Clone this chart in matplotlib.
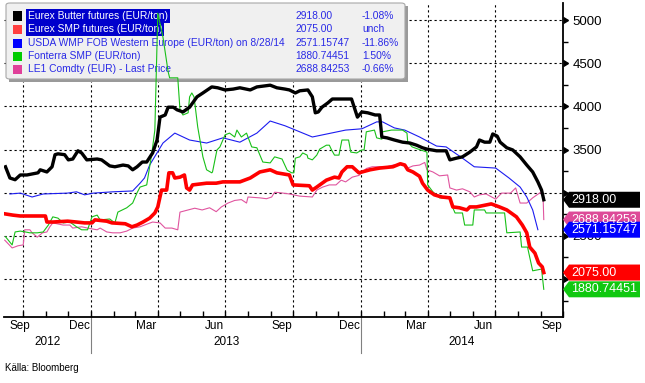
import pandas as pd
import matplotlib
matplotlib.use('Agg')
import matplotlib.pyplot as plt
import matplotlib.dates as mdates
import matplotlib.transforms as mtransforms
from matplotlib.patches import Polygon, FancyBboxPatch, Rectangle
from matplotlib.lines import Line2D

# ---- data (EUR/ton) ----
butter_dates = ['2012-09-07', '2012-09-13', '2012-09-20', '2012-09-27', '2012-10-06', '2012-10-21', '2012-10-24',
                '2012-11-02', '2012-11-09', '2012-11-13', '2012-11-17', '2012-11-26', '2012-12-01', '2012-12-07',
                '2012-12-14', '2012-12-19', '2012-12-26', '2013-01-09', '2013-01-15', '2013-01-26', '2013-02-02',
                '2013-02-13', '2013-02-20', '2013-02-26', '2013-03-04', '2013-03-11', '2013-03-17', '2013-03-25',
                '2013-03-31', '2013-04-04', '2013-04-11', '2013-04-15', '2013-04-22', '2013-04-27', '2013-05-05',
                '2013-05-14', '2013-05-24', '2013-06-01', '2013-06-13', '2013-06-21', '2013-07-01', '2013-07-12',
                '2013-07-21', '2013-08-04', '2013-08-13', '2013-08-31', '2013-09-09', '2013-09-20', '2013-09-26',
                '2013-10-04', '2013-10-10', '2013-10-21', '2013-10-27', '2013-10-31', '2013-11-04', '2013-11-09',
                '2013-11-17', '2013-11-23', '2013-12-19', '2013-12-23', '2013-12-27', '2014-01-02', '2014-01-10',
                '2014-01-20', '2014-01-26', '2014-01-29', '2014-02-05', '2014-02-15', '2014-02-26', '2014-03-08',
                '2014-03-17', '2014-03-25', '2014-03-31', '2014-04-13', '2014-04-26', '2014-05-01', '2014-05-10',
                '2014-05-18', '2014-05-28', '2014-06-06', '2014-06-10', '2014-06-17', '2014-06-24', '2014-06-28',
                '2014-07-04', '2014-07-08', '2014-07-17', '2014-07-25', '2014-08-04', '2014-08-13', '2014-08-21',
                '2014-08-28', '2014-09-02', '2014-09-05']
butter_vals = [3300, 3170, 3150, 3205, 3205, 3230, 3265, 3240, 3300, 3440, 3450, 3440, 3380, 3390, 3485, 3460, 3380,
               3390, 3380, 3310, 3300, 3320, 3310, 3265, 3300, 3355, 3355, 3460, 3610, 3875, 3900, 3990, 3990, 3960,
               3935, 3990, 4110, 4155, 4225, 4215, 4190, 4200, 4215, 4190, 4225, 4245, 4215, 4200, 4190, 4155, 4180,
               4190, 4110, 3925, 3935, 3990, 4040, 4085, 4085, 3980, 3875, 3935, 3925, 3900, 3900, 3645, 3635, 3610,
               3585, 3575, 3550, 3520, 3505, 3485, 3485, 3380, 3400, 3415, 3470, 3530, 3610, 3585, 3585, 3680, 3655,
               3585, 3520, 3495, 3415, 3320, 3240, 3125, 3030, 2918.00]

smp_dates = ['2012-09-06', '2012-09-17', '2012-09-27', '2012-10-31', '2012-11-02', '2012-11-10', '2012-11-30',
             '2012-12-12', '2012-12-23', '2013-01-02', '2013-01-06', '2013-01-22', '2013-01-29', '2013-02-16',
             '2013-02-25', '2013-03-04', '2013-03-12', '2013-03-21', '2013-03-28', '2013-04-01', '2013-04-06',
             '2013-04-13', '2013-04-16', '2013-04-21', '2013-04-24', '2013-05-01', '2013-05-07', '2013-05-10',
             '2013-05-14', '2013-05-18', '2013-06-06', '2013-06-19', '2013-06-28', '2013-07-21', '2013-08-04',
             '2013-08-17', '2013-08-31', '2013-09-09', '2013-09-26', '2013-10-01', '2013-10-23', '2013-10-27',
             '2013-11-02', '2013-11-15', '2013-11-26', '2013-12-02', '2013-12-06', '2013-12-13', '2013-12-20',
             '2013-12-29', '2014-01-13', '2014-01-26', '2014-02-13', '2014-02-23', '2014-03-01', '2014-03-05',
             '2014-03-12', '2014-03-21', '2014-03-25', '2014-04-01', '2014-04-10', '2014-04-20', '2014-05-01',
             '2014-05-05', '2014-05-14', '2014-05-24', '2014-05-28', '2014-06-06', '2014-06-26', '2014-07-07',
             '2014-07-17', '2014-07-30', '2014-08-07', '2014-08-13', '2014-08-17', '2014-08-24', '2014-08-29',
             '2014-09-03', '2014-09-05']
smp_vals = [2755, 2740, 2730, 2730, 2660, 2660, 2670, 2660, 2650, 2650, 2685, 2670, 2650, 2640, 2605, 2625, 2660,
            2705, 2765, 2835, 3030, 3030, 3230, 3230, 3170, 3180, 3205, 3055, 3030, 3090, 3110, 3110, 3125, 3125,
            3170, 3240, 3265, 3230, 3205, 3090, 3080, 3030, 3065, 3145, 3180, 3170, 3240, 3300, 3300, 3230, 3265,
            3285, 3300, 3335, 3320, 3265, 3240, 3190, 3110, 3030, 2975, 2950, 2940, 2835, 2825, 2800, 2835, 2835,
            2870, 2835, 2800, 2720, 2625, 2535, 2370, 2300, 2185, 2140, 2075.00]

wmp_dates = ['2012-09-13', '2012-09-27', '2012-10-13', '2012-10-28', '2012-11-30', '2012-12-12', '2012-12-23',
             '2013-01-04', '2013-01-30', '2013-02-26', '2013-03-08', '2013-03-14', '2013-03-21', '2013-04-08',
             '2013-04-24', '2013-05-14', '2013-06-06', '2013-06-28', '2013-07-21', '2013-08-13', '2013-08-31',
             '2013-09-20', '2013-10-27', '2013-12-11', '2014-01-02', '2014-01-22', '2014-01-30', '2014-02-15',
             '2014-03-01', '2014-03-21', '2014-04-13', '2014-04-26', '2014-05-18', '2014-06-03', '2014-07-02',
             '2014-07-20', '2014-08-04', '2014-08-13', '2014-08-21', '2014-08-28']
wmp_vals = [2985, 2995, 2950, 2985, 2995, 3010, 2975, 2995, 3010, 3020, 3110, 3170, 3320, 3575, 3690, 3610, 3575,
            3635, 3585, 3690, 3830, 3775, 3645, 3725, 3740, 3820, 3820, 3750, 3725, 3645, 3540, 3530, 3400, 3300,
            3285, 3170, 3065, 2950, 2800, 2571.15747]

fonterra_dates = ['2012-09-07', '2012-09-16', '2012-09-20', '2012-09-27', '2012-10-04', '2012-10-10', '2012-10-20',
                  '2012-10-28', '2012-11-04', '2012-11-10', '2012-11-17', '2012-11-24', '2012-12-03', '2012-12-12',
                  '2012-12-19', '2012-12-27', '2013-01-02', '2013-01-09', '2013-01-13', '2013-01-26', '2013-02-02',
                  '2013-02-06', '2013-02-18', '2013-02-26', '2013-03-04', '2013-03-08', '2013-03-17', '2013-03-24',
                  '2013-03-28', '2013-04-01', '2013-04-08', '2013-04-15', '2013-04-17', '2013-04-28', '2013-05-01',
                  '2013-05-05', '2013-05-12', '2013-05-14', '2013-05-17', '2013-05-20', '2013-05-25', '2013-06-01',
                  '2013-06-06', '2013-06-13', '2013-06-14', '2013-06-20', '2013-06-24', '2013-07-01', '2013-07-07',
                  '2013-07-14', '2013-07-17', '2013-07-23', '2013-07-30', '2013-08-06', '2013-08-13', '2013-08-21',
                  '2013-08-31', '2013-09-06', '2013-09-16', '2013-09-23', '2013-09-29', '2013-10-02', '2013-10-04',
                  '2013-10-10', '2013-10-14', '2013-10-20', '2013-10-21', '2013-10-27', '2013-11-02', '2013-11-06',
                  '2013-11-15', '2013-11-19', '2013-11-22', '2013-11-26', '2013-12-02', '2013-12-06', '2013-12-15',
                  '2013-12-18', '2013-12-26', '2014-01-02', '2014-01-05', '2014-01-08', '2014-01-19', '2014-01-22',
                  '2014-01-29', '2014-01-30', '2014-02-11', '2014-02-26', '2014-03-04', '2014-03-05', '2014-03-11',
                  '2014-03-19', '2014-03-31', '2014-04-01', '2014-04-08', '2014-04-17', '2014-05-01', '2014-05-05',
                  '2014-05-08', '2014-05-18', '2014-05-21', '2014-06-01', '2014-06-03', '2014-06-17', '2014-06-19',
                  '2014-07-14', '2014-07-17', '2014-08-04', '2014-08-06', '2014-08-14', '2014-08-21', '2014-09-02',
                  '2014-09-05']
fonterra_vals = [2490, 2395, 2545, 2555, 2545, 2535, 2535, 2545, 2625, 2720, 2705, 2650, 2660, 2605, 2570, 2570,
                 2720, 2740, 2685, 2695, 2650, 2775, 2825, 2880, 3000, 3065, 3090, 3460, 3725, 5080, 4800, 4400,
                 4330, 4330, 3960, 3900, 3925, 4110, 4155, 4110, 3760, 3415, 3265, 3230, 3240, 3495, 3530, 3670,
                 3690, 3645, 3725, 3645, 3690, 3530, 3520, 3355, 3345, 3415, 3390, 3260, 3230, 3230, 3400, 3415,
                 3460, 3435, 3400, 3380, 3435, 3505, 3550, 3550, 3495, 3435, 3435, 3610, 3610, 3470, 3460, 3495,
                 3495, 3705, 3725, 3635, 3620, 3705, 3725, 3725, 3690, 3585, 3530, 3505, 3470, 3090, 3010, 2940,
                 2940, 2825, 2765, 2765, 2625, 2625, 2800, 2800, 2765, 2765, 2535, 2545, 2370, 2370, 2095, 2115,
                 1880.74451]

le1_dates = ['2012-09-06', '2012-09-16', '2012-09-24', '2012-10-01', '2012-10-03', '2012-10-10', '2012-10-13',
             '2012-10-20', '2012-10-27', '2012-11-02', '2012-11-06', '2012-11-10', '2012-11-24', '2012-12-03',
             '2012-12-07', '2012-12-19', '2012-12-27', '2013-01-09', '2013-01-13', '2013-01-22', '2013-01-30',
             '2013-02-09', '2013-02-18', '2013-02-26', '2013-03-08', '2013-03-14', '2013-03-25', '2013-04-04',
             '2013-04-11', '2013-04-20', '2013-04-28', '2013-05-01', '2013-05-12', '2013-05-21', '2013-05-31',
             '2013-06-10', '2013-06-19', '2013-06-26', '2013-07-05', '2013-07-14', '2013-07-23', '2013-07-30',
             '2013-08-01', '2013-08-17', '2013-08-26', '2013-09-02', '2013-09-06', '2013-09-13', '2013-09-26',
             '2013-10-10', '2013-10-27', '2013-11-02', '2013-11-10', '2013-11-19', '2013-11-28', '2013-12-05',
             '2013-12-11', '2013-12-20', '2013-12-29', '2014-01-08', '2014-01-16', '2014-02-05', '2014-02-13',
             '2014-02-23', '2014-03-01', '2014-03-05', '2014-03-12', '2014-03-21', '2014-03-28', '2014-03-31',
             '2014-04-08', '2014-04-17', '2014-04-28', '2014-05-01', '2014-05-10', '2014-05-18', '2014-05-28',
             '2014-06-03', '2014-06-10', '2014-06-19', '2014-07-02', '2014-07-10', '2014-07-22', '2014-07-29',
             '2014-08-04', '2014-08-13', '2014-08-21', '2014-08-31', '2014-09-04', '2014-09-05']
le1_vals = [2450, 2360, 2385, 2395, 2570, 2570, 2535, 2485, 2535, 2545, 2605, 2650, 2625, 2625, 2590, 2605, 2590,
            2570, 2590, 2545, 2535, 2535, 2555, 2590, 2605, 2625, 2660, 2650, 2590, 2590, 2570, 2775, 2800, 2820,
            2800, 2825, 2780, 2835, 2880, 2910, 2920, 2880, 2950, 2940, 2930, 2950, 3005, 3000, 2985, 2960, 2950,
            3030, 3065, 3090, 3090, 3145, 3125, 3180, 3200, 3280, 3300, 3300, 3320, 3330, 3310, 3285, 3310, 3320,
            3350, 3265, 3240, 3195, 3205, 3055, 3030, 3045, 3010, 2950, 2975, 2985, 2925, 2995, 2995, 3055, 2880,
            2880, 2940, 3000, 2975, 2688.84253]

legend_labels = ['Eurex Butter futures (EUR/ton)', 'Eurex SMP futures (EUR/ton)',
                 'USDA WMP FOB Western Europe (EUR/ton) on 8/28/14', 'Fonterra SMP (EUR/ton)',
                 'LE1 Comdty (EUR) - Last Price']
last_labels = ['2918.00', '2075.00', '2571.15747', '1880.74451', '2688.84253']
change_labels = ['-1.08%', 'unch', '-11.86%', '1.50%', '-0.66%']

# y ticks; 2000 and 3000 sit fully behind the value tags in the original
ytick_vals = [2000, 2500, 3000, 3500, 4000, 4500, 5000]
ytick_labels = ['', '2500', '', '3500', '4000', '4500', '5000']

series = [(butter_dates, butter_vals), (smp_dates, smp_vals), (wmp_dates, wmp_vals),
          (fonterra_dates, fonterra_vals), (le1_dates, le1_vals)]
colors = ['#000000', '#ff0000', '#1c1cf0', '#18c018', '#e0559f']
legend_swatch = ['#000000', '#ff4040', '#0000ff', '#00cc00', '#e0409a']
tag_colors = ['#000000', '#ff0000', '#0000ff', '#10c810', '#dd4a98']
widths = [2.4, 2.6, 0.8, 0.8, 0.8]
zorders = [7, 6, 4, 5, 3]

plain = ['Liberation Sans', 'DejaVu Sans']

W, H = 645, 383
fig = plt.figure(figsize=(W / 100, H / 100), dpi=100)
ax_l, ax_r, ax_t, ax_b = 4, 563, 3, 317
ax = fig.add_axes([ax_l / W, 1 - ax_b / H, (ax_r - ax_l) / W, (ax_b - ax_t) / H])

for (d, v), c, lw, z in zip(series, colors, widths, zorders):
    ax.plot(pd.to_datetime(d), v, color=c, lw=lw, zorder=z, solid_joinstyle='round')

ymin, ymax = 1560, 5197
ax.set_ylim(ymin, ymax)
ax.set_xlim(pd.Timestamp('2012-09-05'), pd.Timestamp('2014-10-01'))

# axes styling
for s in ['left', 'top']:
    ax.spines[s].set_visible(False)
for s in ['right', 'bottom']:
    ax.spines[s].set_linewidth(1.3)

ax.yaxis.tick_right()
ax.set_yticks(ytick_vals, ytick_labels)
ax.set_yticks(range(1750, 5001, 250), minor=True)
ax.tick_params(axis='y', which='major', direction='out', length=5, width=1, pad=2, labelsize=9.5)
ax.tick_params(axis='y', which='minor', direction='out', length=3.5, width=1)
for t in ax.yaxis.get_major_ticks():
    t.tick2line.set_marker(9)
    t.tick2line.set_markersize(5)
for lab in ax.get_yticklabels():
    lab.set_fontfamily(plain)

ax.xaxis.set_major_locator(mdates.MonthLocator(bymonth=[1, 4, 7, 10]))
ax.xaxis.set_minor_locator(mdates.MonthLocator())
ax.xaxis.set_major_formatter(plt.NullFormatter())
ax.tick_params(axis='x', which='both', direction='in', length=4, width=1)

ax.grid(True, which='major', color='black', linestyle=(0, (2, 2.5)), linewidth=0.8)
ax.set_axisbelow(True)

# month labels centred in their month (first one kept inside the axis), year labels below
xt = mtransforms.blended_transform_factory(ax.transData, ax.transAxes)
axw = ax_r - ax_l
lab_y = -9 / (ax_b - ax_t)
year_y = -25 / (ax_b - ax_t)
first = True
for m in pd.date_range('2012-09-01', '2014-09-01', freq='MS'):
    if m.month in (3, 6, 9, 12):
        if first:
            ax.text(6 / axw, lab_y, m.strftime('%b'), transform=ax.transAxes, ha='left', va='center',
                    fontsize=8.5, family=plain)
            first = False
        else:
            ax.text(m + pd.Timedelta(days=15), lab_y, m.strftime('%b'), transform=xt, ha='center', va='center',
                    fontsize=8.5, family=plain)
xl = ax.get_xlim()
bounds = [mdates.num2date(xl[0]).replace(tzinfo=None), pd.Timestamp('2013-01-01'), pd.Timestamp('2014-01-01'),
          mdates.num2date(xl[1]).replace(tzinfo=None)]
for yr, a, b in zip(['2012', '2013', '2014'], bounds[:-1], bounds[1:]):
    mid = pd.Timestamp(a) + (pd.Timestamp(b) - pd.Timestamp(a)) / 2
    ax.text(mid, year_y, yr, transform=xt, ha='center', va='center', fontsize=8.5, family=plain)
for b in bounds[1:3]:
    ax.add_line(Line2D([b, b], [0, -36 / (ax_b - ax_t)], transform=xt, color='#808080', lw=0.8, clip_on=False))

# legend box (lines are drawn over it, like the original)
def fp(x, y):
    return x / W, 1 - y / H

ax.add_patch(Rectangle(fp(9, 82), 399 / W, 76 / H, transform=fig.transFigure, facecolor='#9a9a9a',
                       edgecolor='none', zorder=1.7, clip_on=False))
ax.add_patch(FancyBboxPatch(fp(6, 79), 399 / W, 76 / H, boxstyle='round,pad=0,rounding_size=0.006',
                            transform=fig.transFigure, facecolor='#f0f0f0', edgecolor='#a8a8a8', lw=0.8,
                            zorder=1.8, clip_on=False))
row_y = [16, 29.5, 43, 56, 69.5]
leg_fs = 7.4
for i, (lab, val, chg) in enumerate(zip(legend_labels, last_labels, change_labels)):
    y = row_y[i]
    ax.add_patch(Rectangle(fp(13, y + 4.5), 9 / W, 9 / H, transform=fig.transFigure,
                           facecolor=legend_swatch[i], edgecolor='none', zorder=1.9, clip_on=False))
    if i < 2:
        ax.text(*fp(28, y), lab, transform=fig.transFigure, fontsize=leg_fs, family=plain, color='white',
                va='center', ha='left', zorder=1.9,
                bbox=dict(boxstyle='square,pad=0.15', facecolor='#0000cc', edgecolor='none'))
    else:
        ax.text(*fp(28, y), lab, transform=fig.transFigure, fontsize=leg_fs, family=plain, color='#2a2ae6',
                va='center', ha='left', zorder=1.9)
    ax.text(*fp(295, y), val, transform=fig.transFigure, fontsize=leg_fs, family=plain, color='#2a2ae6',
            va='center', ha='left', zorder=1.9)
    ax.text(*fp(362, y), chg, transform=fig.transFigure, fontsize=leg_fs, family=plain, color='#2a2ae6',
            va='center', ha='left', zorder=1.9)

# last-value tags on the right axis
unit_per_px = (ymax - ymin) / (ax_b - ax_t)
half = 8 * unit_per_px
yt = mtransforms.blended_transform_factory(ax.transAxes, ax.transData)
for k in [0, 4, 2, 1, 3]:
    v = series[k][1][-1]
    x0, x1, x2 = 1.0, 1 + 6 / axw, 1 + 77 / axw
    ax.add_patch(Polygon([(x0, v), (x1, v + half), (x2, v + half), (x2, v - half), (x1, v - half)],
                         closed=True, transform=yt, facecolor=tag_colors[k], edgecolor='none',
                         zorder=8, clip_on=False))
    ax.text(1 + 8 / axw, v, last_labels[k], transform=yt, color='white', fontsize=9, family=plain,
            va='center', ha='left', zorder=9, clip_on=False)

fig.text(5 / W, 1 - 368 / H, 'Källa: Bloomberg', fontsize=7, family=plain, va='center', ha='left')

fig.savefig('out.png', dpi=100)
